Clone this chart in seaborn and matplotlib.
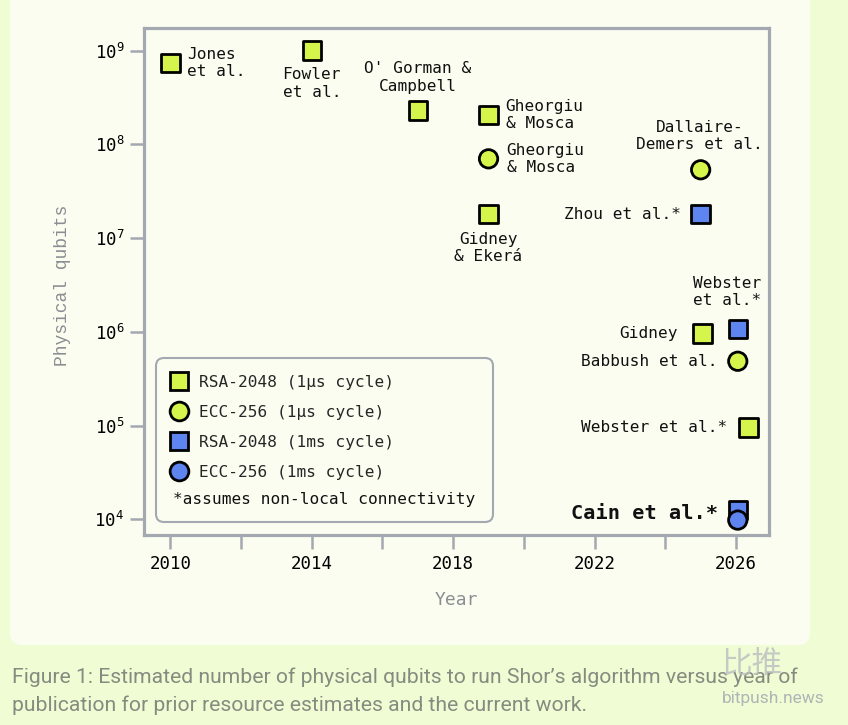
import numpy as np
import pandas as pd
import matplotlib
matplotlib.use("Agg")
import matplotlib.pyplot as plt
import seaborn as sns
from matplotlib.patches import FancyBboxPatch
from matplotlib.ticker import FixedLocator, NullLocator, LogFormatterMathtext

# ---------------- data ----------------
LABELS = ["Jones\net al.", "Fowler\net al.", "O' Gorman &\nCampbell", "Gheorgiu\n& Mosca",
          "Gheorgiu\n& Mosca", "Gidney\n& Ekerá", "Dallaire-\nDemers et al.", "Zhou et al.*",
          "Webster\net al.*", "Gidney", "Babbush et al.", "Webster et al.*", "Cain et al.*", ""]
YEARS = [2010, 2014, 2017, 2019, 2019, 2019, 2025, 2025, 2026.05, 2025.05, 2026.05, 2026.35,
         2026.05, 2026.05]
QUBITS = [7.4e8, 1.0e9, 2.3e8, 2.04e8, 7.0e7, 1.8e7, 5.35e7, 1.8e7, 1.07e6, 9.6e5, 4.85e5,
          9.5e4, 1.26e4, 9.8e3]
SERIES_NAMES = ["RSA-2048 (1μs cycle)", "ECC-256 (1μs cycle)", "RSA-2048 (1ms cycle)",
                "ECC-256 (1ms cycle)"]
SERIES_IDX = [0, 0, 0, 0, 1, 0, 1, 2, 2, 0, 1, 0, 2, 3]
FOOTNOTE = "*assumes non-local connectivity"
X_TICKS = [2010, 2012, 2014, 2016, 2018, 2020, 2022, 2024, 2026]
X_TICK_LABELS = ["2010", "", "2014", "", "2018", "", "2022", "", "2026"]
Y_TICKS = [1e4, 1e5, 1e6, 1e7, 1e8, 1e9]
CAPTION = ["Figure 1: Estimated number of physical qubits to run Shor’s algorithm versus year of",
           "publication for prior resource estimates and the current work."]

# ---------------- styles ----------------
GREEN = "#d6f54c"
BLUE = "#5e84f0"
PALETTE = {SERIES_NAMES[0]: GREEN, SERIES_NAMES[1]: GREEN, SERIES_NAMES[2]: BLUE, SERIES_NAMES[3]: BLUE}
MARKERS = {SERIES_NAMES[0]: "s", SERIES_NAMES[1]: "o", SERIES_NAMES[2]: "s", SERIES_NAMES[3]: "o"}
OUTER_BG = "#f0fcd4"
PANEL_BG = "#fcfdf1"
SPINE = "#a4a8b0"
GREY_TXT = "#8a8e92"
MONO = "DejaVu Sans Mono"

# label placement (pixel offsets from the point, alignment)
LABEL_STYLE = [(17, 0, "left"), (0, -33, "center"), (0, 33, "center"), (17, 0, "left"),
               (18, 0, "left"), (0, -34, "center"), (-1, 34, "center"), (-20, 0, "right"),
               (-11, 37, "center"), (-25, 0, "right"), (-20, 0, "right"), (-21, 0, "right"),
               (-20, -4, "right"), (0, 0, "center")]

sns.set_theme(style="white")
plt.rcParams["font.family"] = [MONO, "DejaVu Sans"]

df = pd.DataFrame({
    "year": YEARS,
    "qubits": QUBITS,
    "series": [SERIES_NAMES[i] for i in SERIES_IDX],
    "label": LABELS,
})

fig = plt.figure(figsize=(8.48, 7.25), dpi=100)
fig.patch.set_facecolor(OUTER_BG)

# inner panel
panel = FancyBboxPatch((0.10, 0.80), 8.0, 7.0, boxstyle="round,pad=0,rounding_size=0.12",
                       transform=fig.dpi_scale_trans, facecolor=PANEL_BG, edgecolor="none",
                       zorder=-5)
fig.patches.append(panel)

ax = fig.add_axes([143.6 / 848, 1 - 535.3 / 725, (768.7 - 143.6) / 848, (535.3 - 27.7) / 725])
ax.set_facecolor("none")
ax.set_zorder(2)

sns.scatterplot(data=df, x="year", y="qubits", hue="series", style="series",
                hue_order=SERIES_NAMES, style_order=SERIES_NAMES, palette=PALETTE,
                markers=MARKERS, s=175, edgecolor="black", linewidth=2.0, ax=ax, zorder=3)

ax.set_yscale("log")
ax.set_xlim(2009.242, 2026.925)
ax.set_ylim(10 ** 3.829, 10 ** 9.244)

ax.xaxis.set_major_locator(FixedLocator(X_TICKS))
ax.set_xticklabels(X_TICK_LABELS)
ax.yaxis.set_major_locator(FixedLocator(Y_TICKS))
ax.yaxis.set_major_formatter(LogFormatterMathtext())
ax.yaxis.set_minor_locator(NullLocator())
ax.xaxis.set_minor_locator(NullLocator())

for sp in ax.spines.values():
    sp.set_color(SPINE)
    sp.set_linewidth(2.3)
ax.tick_params(axis="both", which="major", length=10, width=1.8, color=SPINE,
               labelsize=12.5, labelcolor="black", pad=4)
ax.tick_params(axis="x", bottom=True)
ax.tick_params(axis="y", left=True)

ax.set_xlabel("Year", fontsize=13, color=GREY_TXT, family=MONO)
ax.set_ylabel("Physical qubits", fontsize=13, color=GREY_TXT, family="Liberation Mono")
ax.xaxis.set_label_coords(0.5, -0.1275)
ax.xaxis.label.set_verticalalignment("center")
ax.yaxis.set_label_coords(-0.1305, 0.493)
ax.yaxis.label.set_verticalalignment("center")

# point labels
for (x, y, lab), (dx, dy, ha) in zip(zip(YEARS, QUBITS, LABELS), LABEL_STYLE):
    if not lab:
        continue
    bold = lab.startswith("Cain")
    ax.annotate(lab, (x, y), xytext=(dx, dy), textcoords="offset pixels",
                ha=ha, va="center", multialignment="center" if ha == "center" else "left",
                fontsize=14.6 if bold else 11.6, fontweight="bold" if bold else "normal",
                color="#111111", family=MONO, zorder=4)

# legend
handles, labels = ax.get_legend_handles_labels()
for h in handles:
    try:
        h.set_markersize(13.5)
        h.set_markeredgewidth(2.0)
        h.set_markeredgecolor("black")
    except AttributeError:
        pass
leg = ax.legend(handles, labels, loc="upper left", bbox_to_anchor=(0.0411, 0.3165),
                frameon=False, borderpad=0, borderaxespad=0, handlelength=1.2,
                handletextpad=0.65, labelspacing=0.93,
                prop={"family": MONO, "size": 11.6})
ax.text(0.047, 0.0715, FOOTNOTE, transform=ax.transAxes, ha="left", va="center",
        fontsize=11.6, family=MONO, color="#111111")
legbox = FancyBboxPatch((1.56, 2.03), 3.37, 1.64, boxstyle="round,pad=0,rounding_size=0.08",
                        transform=fig.dpi_scale_trans, facecolor="none", edgecolor=SPINE,
                        linewidth=1.5, zorder=5)
fig.patches.append(legbox)

# caption
fig.text(12 / 848, 1 - 677 / 725, CAPTION[0], ha="left", va="center", fontsize=15.2,
         family="Roboto", color="#868b80")
fig.text(12 / 848, 1 - 705 / 725, CAPTION[1], ha="left", va="center", fontsize=15.2,
         family="Roboto", color="#868b80")
# watermark
fig.text(752 / 848, 1 - 665 / 725, "比推", ha="center", va="center", fontsize=22,
         family=["Noto Sans CJK SC", "DejaVu Sans"], color="#b9bdc0", alpha=0.8)
fig.text(773 / 848, 1 - 698 / 725, "bitpush.news", ha="center", va="center", fontsize=12.5,
         family="Roboto", color="#a8adb2", alpha=0.9)

fig.savefig("out.png", dpi=100, facecolor=OUTER_BG)
